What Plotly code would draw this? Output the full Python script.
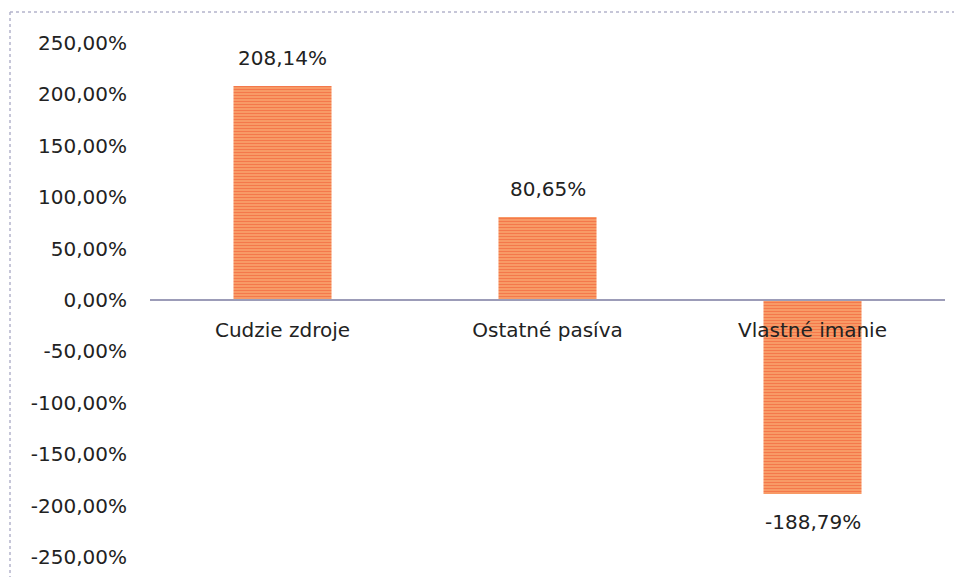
import plotly.graph_objects as go

categories = ["Cudzie zdroje", "Ostatné pasíva", "Vlastné imanie"]
values = [208.14, 80.65, -188.79]
y_ticks = [250, 200, 150, 100, 50, 0, -50, -100, -150, -200, -250]

OFF = 8  # default page body margin
W, H = 962 - OFF, 577 - OFF
L, R, T, B = 150 - OFF, 17, 43 - OFF, 20
pw, ph = W - L - R, H - T - B

def fmt(v):
    return f"{v:.2f}".replace(".", ",") + "%"

FONT = "DejaVu Sans"
TXT = "#222222"
FS = 20

fig = go.Figure()
fig.add_trace(go.Bar(
    x=categories, y=values, width=0.37,
    marker=dict(
        color="#f48a50",
        line=dict(width=0),
        pattern=dict(shape="-", fgcolor="#ee3c1c", bgcolor="#fbb47a", size=3, solidity=0.62),
    ),
    showlegend=False,
))

for c, v in zip(categories, values):
    fig.add_annotation(
        x=c, y=v, text=fmt(v), showarrow=False,
        yanchor="bottom" if v >= 0 else "top",
        yshift=14 if v >= 0 else -14,
        font=dict(family=FONT, size=FS, color=TXT),
    )

def px_x(p):
    return (p - OFF - L) / pw

def px_y(p):
    return (H - B - (p - OFF)) / ph

border = dict(color="#b4b4cc", width=1.5, dash="dot")
fig.add_shape(type="line", xref="paper", yref="paper",
              x0=px_x(10), x1=px_x(975), y0=px_y(12), y1=px_y(12), line=border)
fig.add_shape(type="line", xref="paper", yref="paper",
              x0=px_x(10), x1=px_x(10), y0=px_y(12), y1=px_y(590), line=border)

fig.update_layout(
    width=W, height=H,
    margin=dict(l=L, r=R, t=T, b=B),
    paper_bgcolor="white", plot_bgcolor="white",
    font=dict(family=FONT, size=FS, color=TXT),
    xaxis=dict(
        anchor="free", position=0.5, automargin=False,
        showline=True, linecolor="#9c9cb8", linewidth=2,
        ticks="", ticklabelstandoff=12,
        tickfont=dict(family=FONT, size=FS, color=TXT),
        showgrid=False, zeroline=False,
    ),
    yaxis=dict(
        range=[-250, 250], automargin=False,
        tickvals=y_ticks, ticktext=[fmt(v) for v in y_ticks],
        showgrid=False, zeroline=False, showline=False,
        ticks="", ticklabelstandoff=22,
        tickfont=dict(family=FONT, size=FS, color=TXT),
    ),
)

fig.write_html("out.html")
